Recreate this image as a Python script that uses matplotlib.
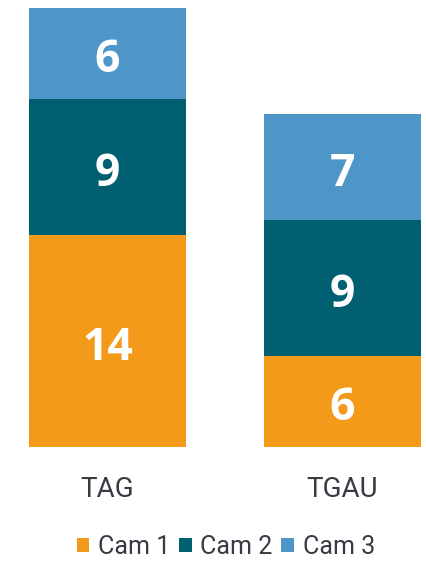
import matplotlib.pyplot as plt
from matplotlib.patches import Patch

categories = ["TAG", "TGAU"]
series_names = ["Cam 1", "Cam 2", "Cam 3"]
cam1 = [14, 6]
cam2 = [9, 9]
cam3 = [6, 7]
colors = ["#F39A1A", "#005F70", "#4E96C8"]

W, H = 426, 561
fig = plt.figure(figsize=(W / 100, H / 100), dpi=100)
base_px, top_px = 446.7, 8
ax = fig.add_axes([0, (H - base_px) / H, 1, (base_px - top_px) / H])

x = [0, 1]
bottom = [0, 0]
for vals, col in zip([cam1, cam2, cam3], colors):
    ax.bar(x, vals, width=0.668, bottom=bottom, color=col)
    for xi, b, v in zip(x, bottom, vals):
        # baseline placed so the digits sit centred in the segment
        ax.text(xi, b + v / 2 - 1.25, str(v), ha="center", va="baseline", color="white",
                fontsize=32, fontweight="bold", family="Open Sans")
    bottom = [b + v for b, v in zip(bottom, vals)]

ax.set_xlim(-107.5 / 235, (W - 107.5) / 235)
ax.set_ylim(0, 29)
ax.axis("off")

for xi, c in zip(x, categories):
    ax.text(xi, -2.85, c, ha="center", va="center", fontsize=20, color="#3a3a45",
            family="Roboto")

handles = [Patch(facecolor=c) for c in colors]
leg = fig.legend(handles, series_names, loc="center", bbox_to_anchor=(0.53, (H - 547) / H),
                 ncol=3, frameon=False, handlelength=0.5, handleheight=0.5,
                 handletextpad=0.35, columnspacing=0.35,
                 prop={"family": "Roboto", "size": 18})
for t in leg.get_texts():
    t.set_color("#3a3a45")

fig.savefig("out.png", dpi=100)
